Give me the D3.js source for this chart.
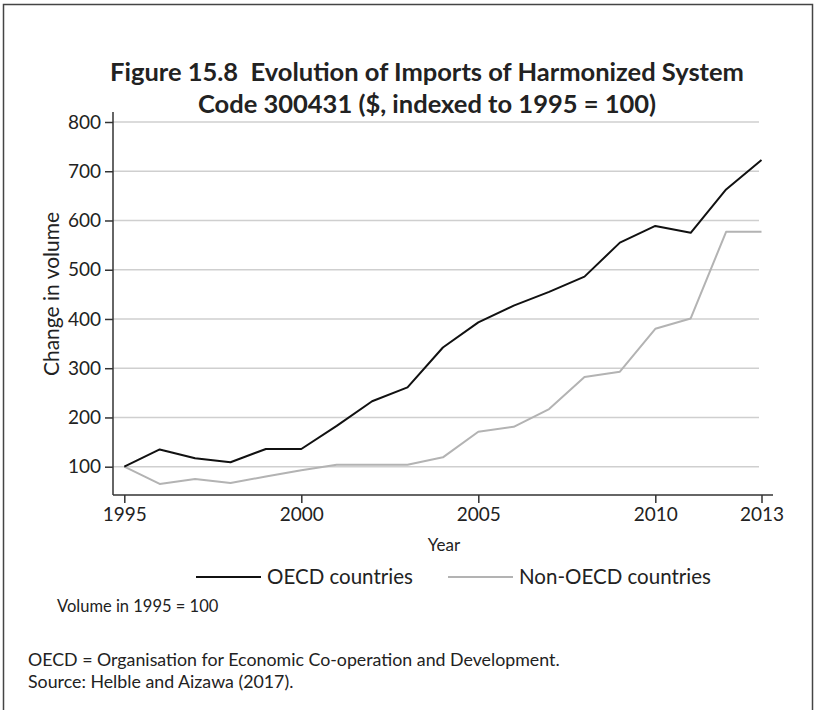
<!DOCTYPE html>
<html>
<head>
<meta charset="utf-8">
<script src="https://cdn.jsdelivr.net/npm/d3@7"></script>
<style>
  body { margin: 0; background: #fff; }
  text { font-family: Lato, "Open Sans", sans-serif; fill: #222; }
</style>
</head>
<body>
<svg width="816" height="710"></svg>
<script>
{
  // data
  const years = [1995, 1996, 1997, 1998, 1999, 2000, 2001, 2002, 2003, 2004,
                 2005, 2006, 2007, 2008, 2009, 2010, 2011, 2012, 2013];
  const oecd = [100, 135, 117, 109, 136, 136, 183, 233, 261, 342,
                393, 427, 455, 486, 555, 589, 575, 663, 723];
  const nonOecd = [100, 65, 75, 67, 80, 93, 104, 104, 104, 119,
                   171, 181, 217, 282, 293, 380, 401, 577, 577];
  const yTicks = [100, 200, 300, 400, 500, 600, 700, 800];
  const xTicks = [1995, 2000, 2005, 2010, 2013];
  const seriesNames = ['OECD countries', 'Non-OECD countries'];
  const seriesColors = ['#111', '#b3b3b3'];

  const svg = d3.select('svg');

  // outer frame
  svg.append('rect')
    .attr('x', 3.5).attr('y', 4.5)
    .attr('width', 809).attr('height', 720)
    .attr('fill', 'none')
    .attr('stroke', '#444')
    .attr('stroke-width', 1.5);

  // title
  const title = svg.append('text')
    .attr('text-anchor', 'middle')
    .style('font-weight', 'bold')
    .style('font-size', '25.5px');
  title.append('tspan').attr('x', 427).attr('y', 81)
    .text('Figure 15.8\u00a0\u00a0Evolution of Imports of Harmonized System');
  title.append('tspan').attr('x', 427).attr('y', 113)
    .text('Code 300431 ($, indexed to 1995 = 100)');

  // scales
  const xScale = d3.scaleLinear()
    .domain([1995, 2013])
    .range([124.3, 761.5]);

  const yScale = d3.scaleLinear()
    .domain([100, 800])
    .range([466.7, 122]);

  const left = 113, bottom = 495;

  // gridlines
  svg.append('g')
    .selectAll('line')
    .data(yTicks)
    .enter()
    .append('line')
    .attr('x1', left).attr('x2', 759)
    .attr('y1', d => yScale(d)).attr('y2', d => yScale(d))
    .attr('stroke', '#cfcfcf')
    .attr('stroke-width', 1.5);

  // y axis
  const yAxis = svg.append('g')
    .attr('transform', `translate(${left},0)`)
    .call(d3.axisLeft(yScale).tickValues(yTicks).tickSize(8).tickPadding(4));
  yAxis.select('.domain').remove();
  yAxis.append('line')
    .attr('y1', 112).attr('y2', bottom)
    .attr('stroke', '#333').attr('stroke-width', 1.5);

  // x axis
  const xAxis = svg.append('g')
    .attr('transform', `translate(0,${bottom})`)
    .call(d3.axisBottom(xScale).tickValues(xTicks).tickFormat(d3.format('d')).tickSize(8).tickPadding(5));
  xAxis.select('.domain').remove();
  xAxis.append('line')
    .attr('x1', left).attr('x2', 773)
    .attr('stroke', '#333').attr('stroke-width', 1.5);

  svg.selectAll('.tick line').attr('stroke', '#333').attr('stroke-width', 1.5);
  svg.selectAll('.tick text')
    .attr('fill', '#222')
    .style('font-family', 'Lato, sans-serif')
    .style('font-size', '19px');

  // axis titles
  svg.append('text')
    .attr('x', 444).attr('y', 551)
    .attr('text-anchor', 'middle')
    .style('font-size', '17px')
    .text('Year');

  svg.append('text')
    .attr('transform', 'translate(59,294) rotate(-90)')
    .attr('text-anchor', 'middle')
    .style('font-size', '21px')
    .text('Change in volume');

  // lines
  const line = d3.line()
    .x((d, i) => xScale(years[i]))
    .y(d => yScale(d));

  svg.selectAll('path.series')
    .data([nonOecd, oecd])
    .enter()
    .append('path')
    .attr('class', 'series')
    .attr('d', line)
    .attr('fill', 'none')
    .attr('stroke', (d, i) => i === 0 ? seriesColors[1] : seriesColors[0])
    .attr('stroke-width', 2)
    .attr('stroke-linejoin', 'round');

  // legend
  const legendX = [196, 448];
  const legend = svg.selectAll('g.legend')
    .data(seriesNames)
    .enter()
    .append('g')
    .attr('class', 'legend')
    .attr('transform', (d, i) => `translate(${legendX[i]},577)`);
  legend.append('line')
    .attr('x1', 0).attr('x2', 65)
    .attr('stroke', (d, i) => seriesColors[i])
    .attr('stroke-width', 2);
  legend.append('text')
    .attr('x', 71).attr('y', 7)
    .style('font-size', '20.5px')
    .text(d => d);

  // notes
  svg.append('text')
    .attr('x', 57).attr('y', 612)
    .style('font-size', '16.5px')
    .text('Volume in 1995 = 100');

  svg.append('text')
    .attr('x', 28).attr('y', 666)
    .style('font-size', '17.8px')
    .text('OECD = Organisation for Economic Co-operation and Development.');

  svg.append('text')
    .attr('x', 28).attr('y', 688)
    .style('font-size', '17.8px')
    .text('Source: Helble and Aizawa (2017).');
}
</script>
</body>
</html>
